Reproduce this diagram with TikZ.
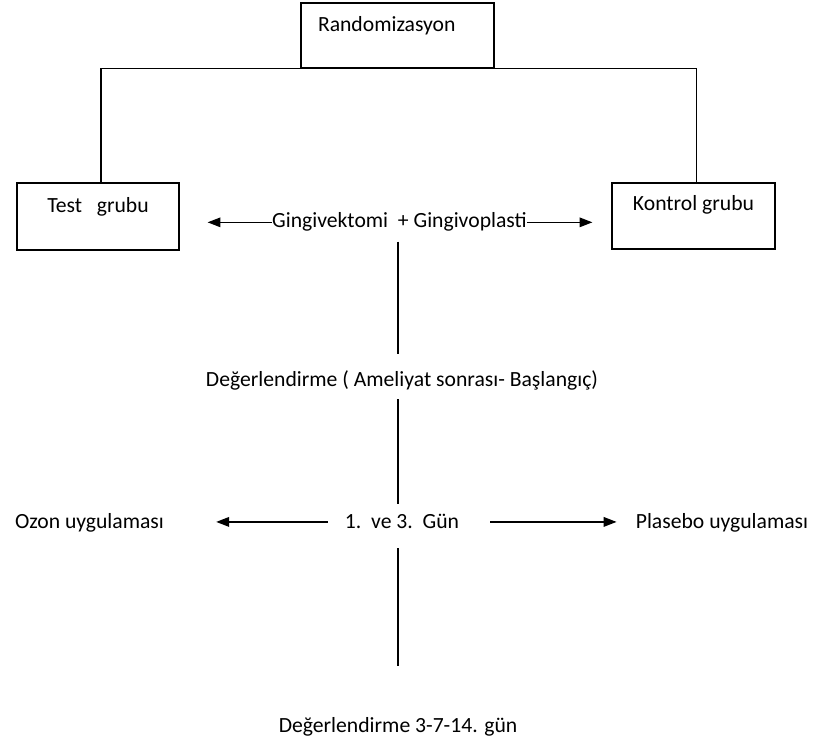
\documentclass[tikz,border=0pt]{standalone}
\usepackage{fontspec}
\setmainfont{Carlito}
\usetikzlibrary{arrows.meta, positioning}

\begin{document}
\begin{tikzpicture}[
    grp/.style={draw, line width=0.9pt, inner ysep=0pt, font=\fontsize{15.4}{18.5}\selectfont},
    txt/.style={inner sep=0pt, anchor=base, font=\fontsize{15.4}{18.5}\selectfont},
    conn/.style={line width=0.9pt},
    arr/.style={-{Triangle[length=3.2mm, width=2.4mm]}, line width=0.9pt}
]
\useasboundingbox (0,0) rectangle (20.4,18.55);

% gruplar
\node[grp, align=left, inner xsep=4.25mm, text width=39.75mm, text height=7.25mm, text depth=9mm] (rand) at (9.9375,17.6625) {Randomizasyon};
\node[grp, minimum width=40.5mm, text height=7.5mm, text depth=9.25mm] (test) at (2.45,13.1375) {Test\ \ \ grubu};
\node[grp, minimum width=40.75mm, text height=7mm, text depth=9.5mm] (kontrol) at (17.3375,13.15) {Kontrol grubu};

% metinler
\node[txt] (ging) at (9.9875,12.85) {Gingivektomi\ \ + Gingivoplasti};
\node[txt] (eval1) at (10.05,8.875) {Değerlendirme ( Ameliyat sonrası- Başlangıç)};
\node[txt] (gun) at (10.05,5.325) {1.\ \ ve 3.\ \ Gün};
\node[txt] (ozon) at (2.2375,5.325) {Ozon uygulaması};
\node[txt] (plasebo) at (18.05,5.325) {Plasebo uygulaması};
\node[txt] (eval2) at (9.95,0.25) {Değerlendirme 3-7-14. gün};

\draw[conn] ([xshift=0.75mm]test.north) |- (rand.south) -| ([xshift=0.75mm]kontrol.north);

\draw[arr] (ging.west) -- ([xshift=7mm]ging.west -| test.east);
\draw[arr] (ging.east) -- ([xshift=-4.75mm]ging.east -| kontrol.west);

\draw[conn, shorten <=2.4mm, shorten >=4.25mm] ([xshift=-0.4mm]ging.south) -- ([xshift=-0.4mm]ging.south |- eval1.north);
\draw[conn, shorten <=2.1mm, shorten >=2.5mm] ([xshift=-0.4mm]ging.south |- eval1.south) -- ([xshift=-0.4mm]ging.south |- gun.north);
\draw[conn, shorten <=4.75mm, shorten >=12.75mm] ([xshift=-0.4mm]ging.south |- gun.south) -- ([xshift=-0.4mm]ging.south |- eval2.north);

\draw[arr] ([xshift=-4.25mm]gun.west) -- ([xshift=13mm]gun.west -| ozon.east);
\draw[arr] ([xshift=7.75mm]gun.east) -- ([xshift=-4.75mm]gun.east -| plasebo.west);
\end{tikzpicture}
\end{document}
